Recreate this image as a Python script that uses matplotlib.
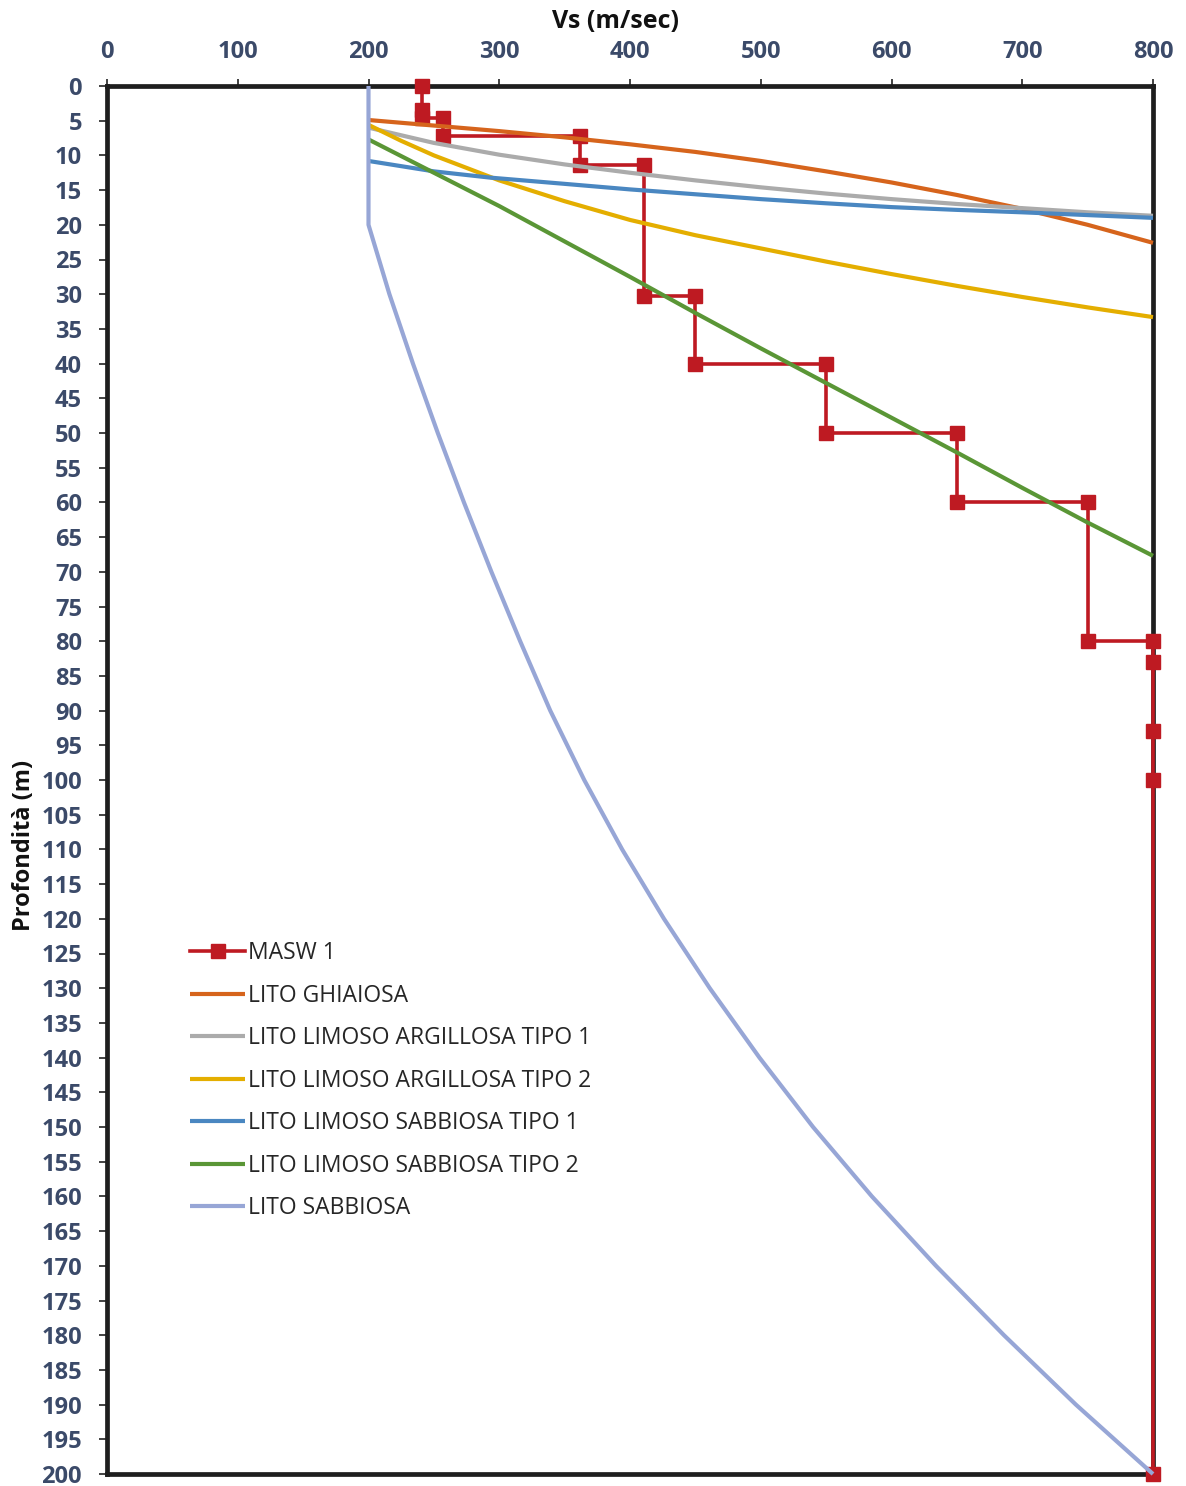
import matplotlib
matplotlib.use("Agg")
import matplotlib.pyplot as plt
import numpy as np

# ---- data ----
masw_vs    = [241, 241, 241, 257, 257, 362, 362, 411, 411, 450, 450, 550, 550, 650, 650, 750, 750, 800, 800, 800, 800, 800]
masw_depth = [0, 3.5, 4.6, 4.6, 7.2, 7.2, 11.4, 11.4, 30.3, 30.3, 40, 40, 50, 50, 60, 60, 80, 80, 83, 93, 100, 200]

ghiaiosa_vs    = [200, 250, 300, 350, 400, 450, 500, 550, 600, 650, 700, 750, 800]
ghiaiosa_depth = [4.9, 5.7, 6.5, 7.4, 8.4, 9.5, 10.8, 12.3, 13.9, 15.7, 17.7, 20.0, 22.6]

arg1_vs    = [200, 250, 300, 350, 400, 450, 500, 550, 600, 650, 700, 750, 800]
arg1_depth = [6.0, 8.2, 9.9, 11.3, 12.5, 13.6, 14.6, 15.5, 16.3, 17.0, 17.6, 18.2, 18.7]

arg2_vs    = [200, 225, 250, 300, 350, 400, 450, 500, 550, 600, 650, 700, 750, 800]
arg2_depth = [5.6, 7.9, 10.0, 13.6, 16.6, 19.3, 21.5, 23.4, 25.3, 27.1, 28.8, 30.4, 31.9, 33.3]

sab1_vs    = [200, 250, 293, 350, 400, 450, 500, 550, 600, 650, 700, 750, 800]
sab1_depth = [10.8, 12.3, 13.2, 14.1, 14.9, 15.6, 16.3, 16.9, 17.45, 17.85, 18.2, 18.6, 19.0]

sab2_vs    = [200, 250, 300, 400, 450, 500, 550, 600, 650, 700, 750, 800]
sab2_depth = [7.7, 12.5, 17.3, 27.5, 32.7, 37.8, 42.8, 47.8, 52.8, 57.9, 62.9, 67.7]

sabbiosa_vs    = [200, 200, 216, 234, 253, 273, 294, 316, 339, 365, 394, 426, 461, 499, 540, 585, 634, 686, 741, 800]
sabbiosa_depth = [0, 20, 30, 40, 50, 60, 70, 80, 90, 100, 110, 120, 130, 140, 150, 160, 170, 180, 190, 200]

labels = ["MASW 1", "LITO GHIAIOSA", "LITO LIMOSO ARGILLOSA TIPO 1",
          "LITO LIMOSO ARGILLOSA TIPO 2", "LITO LIMOSO SABBIOSA TIPO 1",
          "LITO LIMOSO SABBIOSA TIPO 2", "LITO SABBIOSA"]
colors = ["#BE1A22", "#D6641C", "#ABABAB", "#E4AE00", "#4A87C1", "#5A9636", "#97A6D6"]

x_ticks = list(range(0, 801, 100))
y_ticks = list(range(0, 201, 5))

# ---- figure ----
W, H = 1186, 1486
fig = plt.figure(figsize=(W / 100, H / 100), dpi=100)
ax = fig.add_axes([107 / W, 1 - 1474 / H, 1046 / W, 1388 / H])

lw = 3.0
ax.plot(masw_vs, masw_depth, color=colors[0], lw=2.6, marker="s", ms=10,
        label=labels[0], clip_on=False, zorder=3)
series = [(ghiaiosa_vs, ghiaiosa_depth), (arg1_vs, arg1_depth), (arg2_vs, arg2_depth),
          (sab1_vs, sab1_depth), (sab2_vs, sab2_depth), (sabbiosa_vs, sabbiosa_depth)]
for i, (vs, d) in enumerate(series):
    ax.plot(vs, d, color=colors[i + 1], lw=lw, label=labels[i + 1],
            solid_capstyle="butt", solid_joinstyle="round", clip_on=False, zorder=4 + i)

ax.set_xlim(0, 800)
ax.set_ylim(200, 0)
ax.set_xticks(x_ticks)
ax.set_yticks(y_ticks)
ax.xaxis.tick_top()

tick_color = "#3B4A69"
for lab in ax.get_xticklabels() + ax.get_yticklabels():
    lab.set_fontfamily("Open Sans")
    lab.set_fontweight("bold")
    lab.set_fontsize(17)
    lab.set_color(tick_color)
ax.tick_params(axis="x", direction="out", length=5, width=1.2, color="#222222", pad=10.5)
ax.tick_params(axis="y", direction="out", length=6, width=1.2, color="#222222", pad=12)

for s in ax.spines.values():
    s.set_linewidth(3.4)
    s.set_color("#1E1E1E")
    s.set_zorder(2)

fig.text(616 / W, 1 - 22 / H, "Vs (m/sec)", ha="center", va="center",
         fontsize=18, fontweight="bold", family="Open Sans", color="#111111")
fig.text(24 / W, 1 - 845 / H, "Profondità (m)", ha="center", va="center", rotation=90,
         fontsize=17, fontweight="bold", family="Open Sans", color="#111111")

leg = ax.legend(loc="upper left", bbox_to_anchor=((190 - 107) / 1046, 1 - (941 - 86) / 1388),
                frameon=False, prop={"family": "Open Sans", "size": 16.5},
                handlelength=2.4, handletextpad=0.15, labelspacing=0.81, borderaxespad=0,
                borderpad=0)
for t in leg.get_texts():
    t.set_color("#262626")

fig.savefig("out.png", dpi=100)
